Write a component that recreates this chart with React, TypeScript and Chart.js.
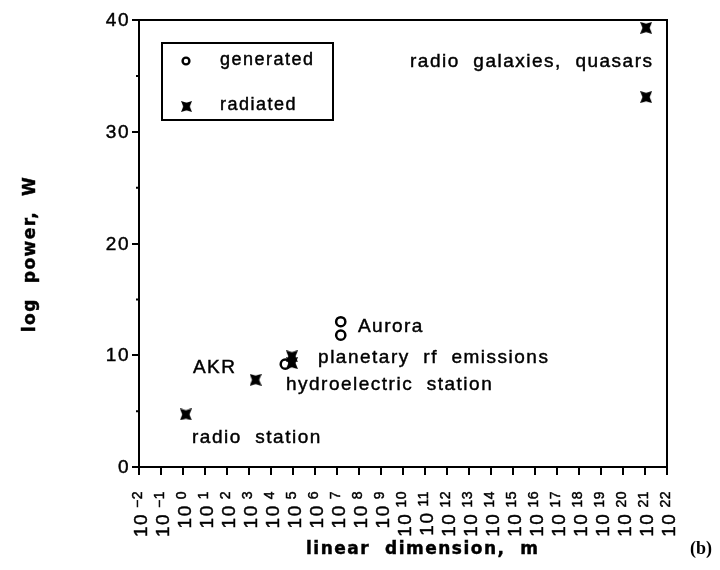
import { useEffect, useRef } from "react";
import { Chart, registerables } from "chart.js";

Chart.register(...registerables);

// Decades along the horizontal axis (exponent of 10, metres)
const decadeExponents = [
  -2, -1, 0, 1, 2, 3, 4, 5, 6, 7, 8, 9, 10, 11, 12, 13, 14, 15, 16, 17, 18, 19, 20, 21, 22,
];

// log10 of power (W) tick labels, with unlabelled half-steps
const powerTicks = [0, 10, 20, 30, 40];
const minorPowerTicks = [5, 15, 25, 35];

// Generated power: log10(size / m), log10(power / W)
const generatedLogSize = [4.65, 7.17, 7.17];
const generatedLogPower = [9.2, 13.0, 11.8];

// Radiated power: log10(size / m), log10(power / W)
const radiatedLogSize = [0.13, 3.3, 4.95, 4.95, 21.05, 21.05];
const radiatedLogPower = [4.7, 7.8, 9.9, 9.3, 39.3, 33.1];

// Source names, anchored (left edge, middle) in the same log-log space
const sourceNames = [
  "radio  galaxies,  quasars",
  "Aurora",
  "AKR",
  "planetary  rf  emissions",
  "hydroelectric  station",
  "radio  station",
];
const sourceNameLogSize = [10.32, 7.95, 0.45, 6.14, 4.68, 0.41];
const sourceNameLogPower = [36.24, 12.53, 8.86, 9.75, 7.34, 2.6];

const seriesNames = ["generated", "radiated"];

// Filled bow-tie cross used for radiated sources
function makeCrossMark(size: number): HTMLCanvasElement {
  const c = document.createElement("canvas");
  c.width = size;
  c.height = size;
  const g = c.getContext("2d")!;
  const s = size;
  g.fillStyle = "#000";
  g.beginPath();
  g.moveTo(0, 0);
  g.lineTo(s / 2, s * 0.14);
  g.lineTo(s, 0);
  g.lineTo(s * 0.8, s / 2);
  g.lineTo(s, s);
  g.lineTo(s / 2, s * 0.86);
  g.lineTo(0, s);
  g.lineTo(s * 0.2, s / 2);
  g.closePath();
  g.fill();
  return c;
}

const SANS = "'Liberation Sans', Arial, Helvetica, sans-serif";
const HEAVY = "'DejaVu Sans', 'Liberation Sans', sans-serif";

export default function App() {
  const canvasRef = useRef<HTMLCanvasElement | null>(null);

  useEffect(() => {
    const canvas = canvasRef.current;
    if (!canvas) return;
    const cross = makeCrossMark(12);

    const overlay = {
      id: "overlay",
      afterDraw(chart: any) {
        const { ctx, chartArea: a, scales } = chart;
        const xs = scales.x;
        const ys = scales.y;
        ctx.save();
        ctx.strokeStyle = "#000";
        ctx.fillStyle = "#000";
        ctx.lineWidth = 2;

        const ink = (t: string, x: number, y: number) => {
          ctx.fillText(t, x, y);
          ctx.lineWidth = 0.45;
          ctx.strokeText(t, x, y);
        };

        // closing frame on top and right
        ctx.beginPath();
        ctx.moveTo(a.left - 1, a.top);
        ctx.lineTo(a.right, a.top);
        ctx.lineTo(a.right, a.bottom + 1);
        ctx.stroke();

        // short half-step ticks on the power axis
        ctx.beginPath();
        for (const v of minorPowerTicks) {
          const y = ys.getPixelForValue(v);
          ctx.moveTo(a.left - 3, y);
          ctx.lineTo(a.left, y);
        }
        ctx.stroke();

        // power tick labels
        ctx.letterSpacing = "1.5px";
        ctx.font = `19px ${SANS}`;
        ctx.textAlign = "right";
        ctx.textBaseline = "middle";
        for (const v of powerTicks) {
          ink(String(v), a.left - 9, ys.getPixelForValue(v) + 1);
        }

        // decade tick labels: 10 with a raised exponent, read bottom to top
        for (const e of decadeExponents) {
          const px = xs.getPixelForValue(e);
          const exp = e < 0 ? "\u2212" + Math.abs(e) : String(e);
          ctx.save();
          ctx.translate(px + 3, a.bottom + 24);
          ctx.rotate(-Math.PI / 2);
          ctx.textAlign = "right";
          ctx.textBaseline = "middle";
          ctx.letterSpacing = "0.5px";
          ctx.font = `14px ${SANS}`;
          const we = ctx.measureText(exp).width;
          ink(exp, 0, -4);
          ctx.letterSpacing = "1.5px";
          ctx.font = `19px ${SANS}`;
          ink("10", -(we + 5), 0);
          ctx.restore();
        }

        // source names
        ctx.font = `19px ${SANS}`;
        ctx.textAlign = "left";
        ctx.textBaseline = "middle";
        ctx.letterSpacing = "1.5px";
        sourceNames.forEach((name, i) => {
          ink(
            name,
            xs.getPixelForValue(sourceNameLogSize[i]),
            ys.getPixelForValue(sourceNameLogPower[i])
          );
        });

        // legend box
        const lx = a.left + 23;
        const ly = a.top + 23;
        ctx.lineWidth = 2;
        ctx.strokeRect(lx, ly, 171, 77);
        ctx.beginPath();
        ctx.lineWidth = 2.4;
        ctx.arc(lx + 24, ly + 18, 3.4, 0, Math.PI * 2);
        ctx.stroke();
        ctx.drawImage(cross, lx + 19, ly + 58, 11, 11);
        ctx.font = `18px ${SANS}`;
        ink(seriesNames[0], lx + 58, ly + 17);
        ink(seriesNames[1], lx + 58, ly + 62);

        // axis titles
        ctx.font = `bold 17px ${HEAVY}`;
        ctx.letterSpacing = "1.5px";
        ctx.textAlign = "left";
        ink("linear  dimension,  m", 306, 550);
        ctx.save();
        ctx.translate(31, 254);
        ctx.rotate(-Math.PI / 2);
        ctx.textAlign = "center";
        ink("log  power,  W", 0, 0);
        ctx.restore();

        // panel letter
        ctx.letterSpacing = "0px";
        ctx.font = "bold 18px 'Liberation Serif', 'Times New Roman', serif";
        ctx.textAlign = "left";
        ctx.fillText("(b)", 690, 549);

        ctx.restore();
      },
    };

    const chart = new Chart(canvas, {
      type: "scatter",
      data: {
        datasets: [
          {
            label: seriesNames[0],
            data: generatedLogSize.map((x, i) => ({ x, y: generatedLogPower[i] })),
            pointStyle: "circle",
            pointRadius: 4.6,
            borderWidth: 2.5,
            borderColor: "#000",
            backgroundColor: "rgba(255,255,255,0)",
          },
          {
            label: seriesNames[1],
            data: radiatedLogSize.map((x, i) => ({ x, y: radiatedLogPower[i] })),
            pointStyle: cross,
            pointRadius: 6,
            borderColor: "#000",
            backgroundColor: "#000",
          },
        ],
      },
      options: {
        responsive: false,
        animation: false,
        events: [],
        layout: { padding: { top: 20, right: 53, bottom: 0, left: 0 } },
        plugins: {
          legend: { display: false },
          tooltip: { enabled: false },
        },
        scales: {
          x: {
            type: "linear",
            min: -2,
            max: 22,
            ticks: { stepSize: 1, display: false },
            grid: {
              drawOnChartArea: false,
              drawTicks: true,
              tickLength: 8,
              color: "#000",
              lineWidth: 2,
            },
            border: { display: true, color: "#000", width: 2 },
            afterFit(scale: any) {
              scale.height = 103;
            },
          },
          y: {
            type: "linear",
            min: 0,
            max: 40,
            ticks: { stepSize: 10, display: false },
            grid: {
              drawOnChartArea: false,
              drawTicks: true,
              tickLength: 7,
              color: "#000",
              lineWidth: 2,
            },
            border: { display: true, color: "#000", width: 2 },
            afterFit(scale: any) {
              scale.width = 139;
            },
          },
        },
      },
      plugins: [overlay],
    });

    return () => chart.destroy();
  }, []);

  return (
    <div style={{ position: "absolute", left: 0, top: 0, width: 720, height: 570, background: "#fff" }}>
      <canvas ref={canvasRef} width={720} height={570} style={{ display: "block" }} />
    </div>
  );
}
